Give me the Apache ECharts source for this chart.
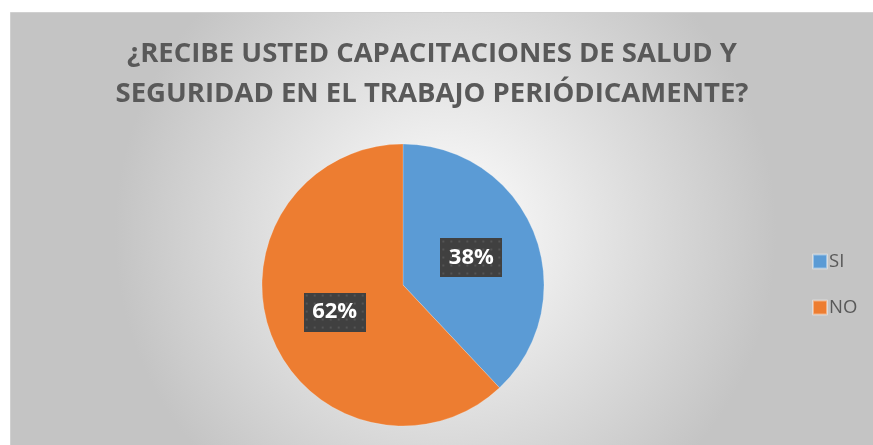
<!DOCTYPE html>
<html>
<head>
<meta charset="utf-8">
<script src="https://cdn.jsdelivr.net/npm/echarts@6/dist/echarts.min.js"></script>
<style>
  html, body { margin: 0; padding: 0; background: #fff; }
  #chart { width: 873px; height: 445px; }
</style>
</head>
<body>
<div id="chart"></div>
<script>
  // categorías y valores
  const categories = ['SI', 'NO']
  const values = [38, 62]
  const colors = ['#5B9BD5', '#ED7D31']
  const titleLines = [
    '¿RECIBE USTED CAPACITACIONES DE SALUD Y',
    'SEGURIDAD EN EL TRABAJO PERIÓDICAMENTE?'
  ]

  // fondo punteado de las etiquetas
  const makeDots = (w, h) => {
    const c = document.createElement('canvas')
    c.width = w
    c.height = h
    const ctx = c.getContext('2d')
    ctx.fillStyle = '#404040'
    ctx.fillRect(0, 0, w, h)
    ctx.fillStyle = '#555555'
    for (let y = 2; y < h; y += 8) {
      for (let x = 2; x < w; x += 8) {
        ctx.fillRect(x, y, 2, 2)
      }
    }
    return c
  }
  const dots = makeDots(62, 39)

  const titleStyle = {
    fontFamily: 'Open Sans',
    fontWeight: 'bold',
    fontSize: 27.5,
    fill: '#595959',
    align: 'center',
    verticalAlign: 'middle'
  }

  const chart = echarts.init(document.getElementById('chart'))
  chart.setOption({
    animation: false,
    graphic: [
      {
        type: 'rect',
        left: 10,
        top: 12,
        silent: true,
        z: -10,
        shape: { width: 870, height: 440 },
        style: {
          stroke: '#d0d0d0',
          lineWidth: 1,
          fill: {
            type: 'radial',
            x: 0.5,
            y: 0.5,
            r: 0.75,
            colorStops: [
              { offset: 0, color: '#ffffff' },
              { offset: 1, color: '#c4c4c4' }
            ]
          }
        }
      },
      { type: 'text', x: 432, y: 54, style: { ...titleStyle, text: titleLines[0] } },
      { type: 'text', x: 432, y: 94, style: { ...titleStyle, text: titleLines[1] } }
    ],
    color: colors,
    legend: {
      orient: 'vertical',
      left: 807,
      top: 247,
      icon: 'rect',
      itemWidth: 14,
      itemHeight: 14,
      itemGap: 27,
      data: categories,
      textStyle: {
        fontFamily: 'Open Sans',
        fontSize: 18.5,
        color: '#595959',
        lineHeight: 18,
        padding: [0, 0, 0, -3]
      }
    },
    series: [
      {
        type: 'pie',
        center: [403, 285],
        radius: 141,
        startAngle: 90,
        clockwise: true,
        data: categories.map((name, i) => ({ name, value: values[i] })),
        itemStyle: { borderColor: 'rgba(255,255,255,0.4)', borderWidth: 0.5 },
        labelLine: { show: false },
        label: {
          position: 'inside',
          formatter: '{d}%',
          fontFamily: 'Open Sans',
          fontWeight: 'bold',
          fontSize: 22,
          color: '#fff',
          width: 62,
          height: 39,
          lineHeight: 39,
          align: 'center',
          backgroundColor: { image: dots },
          shadowColor: 'rgba(0,0,0,0.45)',
          shadowBlur: 4,
          shadowOffsetX: 3,
          shadowOffsetY: 3
        },
        emphasis: { disabled: true }
      }
    ]
  })
</script>
</body>
</html>
